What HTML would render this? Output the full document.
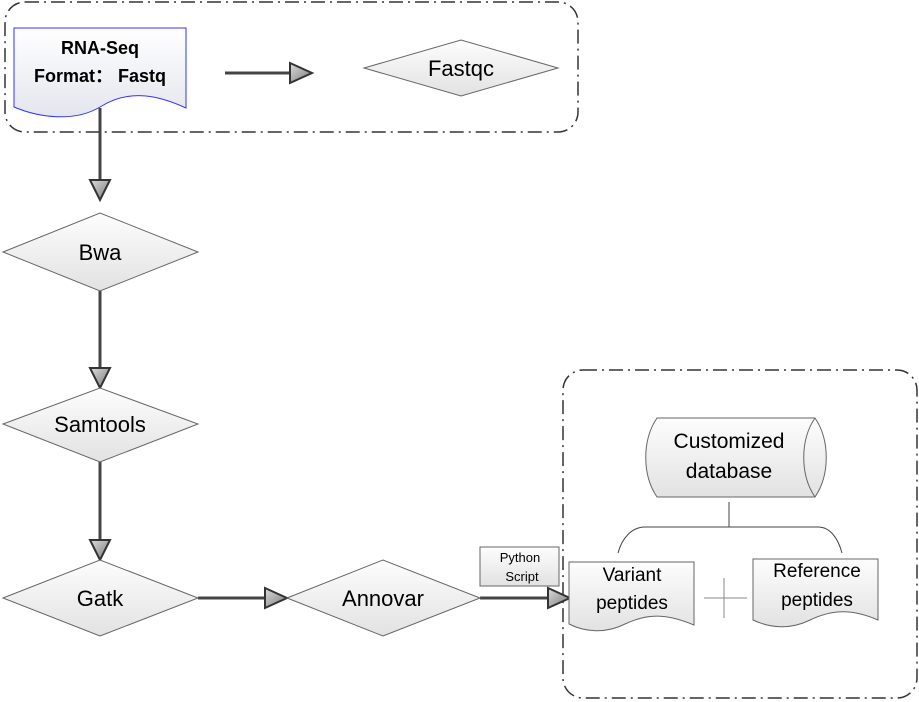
<!DOCTYPE html>
<html><head><meta charset="utf-8"><style>body{margin:0;background:#fff}svg{display:block}text{font-family:"Liberation Sans",sans-serif}</style></head><body>
<svg width="919" height="702" viewBox="0 0 919 702" xmlns="http://www.w3.org/2000/svg">
<defs>
<linearGradient id="g" x1="0" y1="0" x2="0" y2="1"><stop offset="0" stop-color="#fdfdfd"/><stop offset="1" stop-color="#e2e2e2"/></linearGradient>
<linearGradient id="gb" x1="0" y1="0" x2="0" y2="1"><stop offset="0" stop-color="#fff"/><stop offset="1" stop-color="#e4e6ee"/></linearGradient>
<linearGradient id="ah" x1="0" y1="0" x2="1" y2="1"><stop offset="0" stop-color="#ddd"/><stop offset="1" stop-color="#777"/></linearGradient>
</defs>
<g fill="none" stroke="#333" stroke-width="1.5" stroke-dasharray="14,5,2,5">
<rect x="5" y="2" width="573" height="130" rx="20"/>
<rect x="563" y="370" width="354" height="328" rx="20"/>
</g>
<g stroke="#444" stroke-width="3" fill="none">
<line x1="225" y1="73" x2="292" y2="73"/>
<line x1="100" y1="108" x2="100" y2="180"/>
<line x1="100" y1="291" x2="100" y2="370"/>
<line x1="100" y1="462" x2="100" y2="540"/>
<line x1="198" y1="598" x2="267" y2="598"/>
<line x1="480" y1="598" x2="550" y2="598"/>
</g>
<g fill="url(#ah)" stroke="#333" stroke-width="2">
<polygon points="290,63 312,73 290,83"/>
<polygon points="90,180 110,180 100,200"/>
<polygon points="90,368 110,368 100,388"/>
<polygon points="90,540 110,540 100,560"/>
<polygon points="265,588 287,598 265,608"/>
<polygon points="548,588 570,598 548,608"/>
</g>
<path d="M14,28 H186 V108 C160,96 130,88 100,107 C75,122 40,118 14,107 Z" fill="url(#gb)" stroke="#33f" stroke-width="1"/>
<text x="100" y="54" text-anchor="middle" font-size="18" font-weight="bold">RNA-Seq</text>
<text x="100" y="82" text-anchor="middle" font-size="18" font-weight="bold">Format： Fastq</text>
<g fill="url(#g)" stroke="#666" stroke-width="1">
<polygon points="364,68 461,40 558,68 461,96"/>
<polygon points="3,252 100,213 198,252 100,291"/>
<polygon points="3,424 100,388 198,424 100,462"/>
<polygon points="3,598 100,560 198,598 100,636"/>
<polygon points="287,598 383,560 480,598 383,636"/>
</g>
<g font-size="22" text-anchor="middle">
<text x="461" y="76">Fastqc</text>
<text x="100" y="260">Bwa</text>
<text x="100" y="432">Samtools</text>
<text x="100" y="606">Gatk</text>
<text x="383" y="606">Annovar</text>
</g>
<rect x="480" y="547" width="79" height="39" fill="url(#g)" stroke="#666"/>
<text x="520" y="562" font-size="13" text-anchor="middle">Python</text>
<text x="522" y="581" font-size="13" text-anchor="middle">Script</text>
<path d="M657,418 H815 C830,440 830,475 815,497 H657 C642,475 642,440 657,418 Z" fill="url(#g)" stroke="#666"/>
<path d="M815,418 C800,440 800,475 815,497" fill="none" stroke="#666"/>
<text x="729" y="448" font-size="21" text-anchor="middle">Customized</text>
<text x="729" y="478" font-size="21" text-anchor="middle">database</text>
<g fill="none" stroke="#444" stroke-width="1">
<line x1="729" y1="502" x2="729" y2="527"/>
<path d="M618,553 C622,538 632,527 645,527 H818 C830,527 838,538 842,553"/>
</g>
<g fill="url(#g)" stroke="#666">
<path d="M569,562 H694 V625 C670,615 650,612 625,624 C605,634 585,632 569,624 Z"/>
<path d="M753,559 H878 V620 C855,610 835,608 810,620 C790,630 770,628 753,620 Z"/>
</g>
<text x="632" y="581" font-size="19" text-anchor="middle">Variant</text>
<text x="632" y="609" font-size="19" text-anchor="middle">peptides</text>
<text x="817" y="577" font-size="19" text-anchor="middle">Reference</text>
<text x="817" y="606" font-size="19" text-anchor="middle">peptides</text>
<g stroke="#888" stroke-width="1"><line x1="704" y1="598" x2="747" y2="598"/><line x1="724" y1="578" x2="724" y2="618"/></g>
</svg>
</body></html>
